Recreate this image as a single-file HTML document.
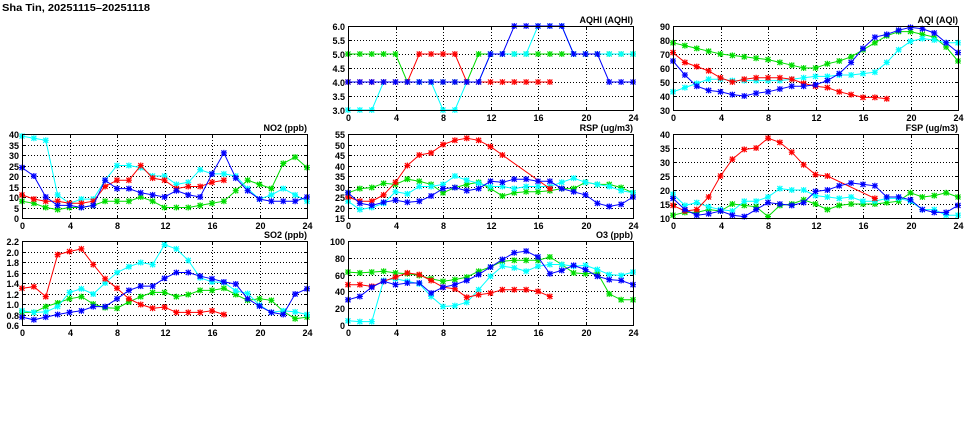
<!DOCTYPE html>
<html><head><meta charset="utf-8">
<style>
html,body{margin:0;padding:0;background:#fff;width:975px;height:447px;overflow:hidden}
svg{display:block}
text{font-family:"Liberation Sans",sans-serif;font-weight:bold;fill:#000}
</style></head>
<body>
<svg id="s" width="975" height="447" xmlns="http://www.w3.org/2000/svg">
<text x="2" y="11" font-size="10.5" font-family="Liberation Serif" textLength="148" lengthAdjust="spacingAndGlyphs">Sha Tin, 20251115–20251118</text>
</svg>
<script>
const N=null;
const panels=[
{x:348,y:26,t:"AQHI (AQHI)",min:3,max:6,step:0.5,fmt:v=>v.toFixed(1),s:{
g:[5,5,5,5,5,4,4,4,4,4,4,5,5,5,5,5,5,5,5,5,5,5,5,5,5],
c:[3,3,3,4,4,4,4,4,3,3,4,4,5,5,5,5,6,6,6,5,5,5,5,5,5],
r:[4,4,4,4,4,4,5,5,5,5,4,4,4,4,4,4,4,4],
b:[4,4,4,4,4,4,4,4,4,4,4,4,5,5,6,6,6,6,6,5,5,5,4,4,4]}},
{x:673,y:26,t:"AQI (AQI)",min:30,max:90,step:10,fmt:v=>v,s:{
g:[78,76,74,72,70,69,68,67,66,64,62,60,60,63,65,68,73,78,83,86,86,84,82,75,65],
c:[43,46,49,52,52,51,51,51,51,51,52,53,54,54,55,55,56,57,64,73,79,81,80,78,78],
r:[71,64,61,58,53,50,52,53,53,53,52,49,47,46,43,41,39,39,38],
b:[65,55,47,44,43,41,40,42,43,45,47,47,48,51,56,64,74,82,84,87,89,88,85,78,71]}},
{x:22,y:134,t:"NO2 (ppb)",min:0,max:40,step:5,fmt:v=>v,s:{
g:[8,7,5,4,5,5,6,8,8,8,10,8,5,5,5,6,7,8,13,18,16,14,26,29,24],
c:[39,38,37,11,7,9,9,18,25,25,24,20,20,16,17,23,21,21,20,14,9,11,14,11,8],
r:[11,9,8,8,7,7,8,15,18,18,25,19,18,14,15,15,17,18],
b:[24,20,10,6,6,5,6,18,14,14,12,11,10,13,11,10,21,31,19,13,9,8,8,8,10]}},
{x:348,y:134,t:"RSP (ug/m3)",min:15,max:55,step:5,fmt:v=>v,s:{
g:[27,29,29.5,31.5,31,33.5,32.5,31,27,29.5,31,32,29,25.5,27,27.5,27.5,28,29,29,32,31,31,29.5,27],
c:[23,19,20,22,27.5,26.5,30,30,31,35,33,31.5,30,30,29,30,30,30,32,34,32,31,30,28,27],
r:[25,23,23,26,32,40,45,46,50,52,53,52,49,45,N,N,N,29],
b:[27,22,21,22.5,23.5,22.5,23,25.5,29,29.5,28,29,32.5,32,33.5,33.5,32.5,32.5,29,27.5,26,22,20.5,21.5,25]}},
{x:673,y:134,t:"FSP (ug/m3)",min:10,max:40,step:5,fmt:v=>v,s:{
g:[11,12,12,13,12.5,15,14.5,14,10.5,14.5,15,16.5,15,13,14.5,15,15,15,15.5,16,19,17.5,18,19,17.5],
c:[18.5,14.5,15.5,14,13,12.5,16,16,17.5,20.5,20,20,18,17.5,17,17.5,16,16,17,17,16,13,13,11,11],
r:[14.5,12.5,13,17.5,25,31,34.5,35,38.5,37,33.5,29,25.5,25,N,N,N,17],
b:[17,13,11,11.5,12.5,11,10.5,13,15.5,15,14.5,15.5,19.5,20,21.5,22.5,22,21.5,17.5,17.5,16.5,13,12,12,14.5]}},
{x:22,y:241,t:"SO2 (ppb)",min:0.6,max:2.2,step:0.2,fmt:v=>v.toFixed(1),s:{
g:[0.84,0.84,0.95,1.02,1.1,1.14,1.0,0.93,0.92,1.04,1.14,1.22,1.22,1.14,1.18,1.26,1.26,1.3,1.18,1.07,1.1,1.07,0.86,0.72,0.75],
c:[0.87,0.84,0.85,0.95,1.22,1.29,1.19,1.4,1.6,1.71,1.79,1.75,2.13,2.05,1.83,1.5,1.42,1.41,1.25,1.2,0.98,0.84,0.87,0.85,0.8],
r:[1.3,1.33,1.14,1.94,2.0,2.05,1.75,1.48,1.3,1.1,0.99,0.92,0.94,0.84,0.84,0.84,0.87,0.8],
b:[0.75,0.7,0.75,0.8,0.84,0.87,0.95,0.95,1.1,1.26,1.34,1.34,1.49,1.6,1.6,1.53,1.48,1.42,1.38,1.1,0.96,0.84,0.8,1.19,1.29]}},
{x:348,y:241,t:"O3 (ppb)",min:0,max:100,step:20,fmt:v=>v,s:{
g:[63,62,63,64,62,61,59,55,52,54,57,64,69,76,77,77,77,81,72,62,61,62,37,30,30],
c:[5,4,4,53,55,52,49,34,22,23,27,42,58,70,68,64,70,72,72,70,71,66,60,59,63],
r:[48,48,46,52,57,62,60,53,45,43,33,36,38,42,42,42,40,34],
b:[30,34,45,52,48,50,50,38,45,48,53,60,69,78,86,88,81,61,65,71,66,58,54,53,48]}}
];
const col={g:"#00dd00",c:"#00ffff",r:"#ff0000",b:"#0000ff"};
const W=285,H=84;
let out="";
for(const p of panels){
  const X=h=>p.x+h*W/24, Y=v=>p.y+H-(v-p.min)/(p.max-p.min)*H;
  out+=`<text x="${p.x+W}" y="${p.y-3}" font-size="9" text-anchor="end">${p.t}</text>`;
  for(let v=p.min;v<=p.max+1e-9;v+=p.step){
    const y=Math.round(Y(v))+0.5;
    if(v>p.min+1e-9&&v<p.max-1e-9) out+=`<line x1="${p.x}" x2="${p.x+W}" y1="${y}" y2="${y}" stroke="#000" stroke-width="1" stroke-dasharray="1,2"/>`;
    out+=`<line x1="${p.x}" x2="${p.x+3}" y1="${y}" y2="${y}" stroke="#000"/><line x1="${p.x+W-3}" x2="${p.x+W}" y1="${y}" y2="${y}" stroke="#000"/>`;
    out+=`<text x="${p.x-3}" y="${y+3.5}" font-size="9" text-anchor="end">${p.fmt(Math.round(v*10)/10)}</text>`;
  }
  for(let h=0;h<=24;h+=4){
    const x=Math.round(X(h))+0.5;
    if(h>0&&h<24) out+=`<line x1="${x}" x2="${x}" y1="${p.y}" y2="${p.y+H}" stroke="#000" stroke-dasharray="1,2"/>`;
    out+=`<line x1="${x}" x2="${x}" y1="${p.y+H-3}" y2="${p.y+H}" stroke="#000"/><line x1="${x}" x2="${x}" y1="${p.y}" y2="${p.y+3}" stroke="#000"/>`;
    out+=`<text x="${x}" y="${p.y+H+11}" font-size="9" text-anchor="middle">${h}</text>`;
  }
  for(const k of ["g","c","r","b"]){
    const d=p.s[k];const pts=[];
    d.forEach((v,i)=>{if(v!==null)pts.push([X(i),Y(v)])});
    out+=`<polyline fill="none" stroke="${col[k]}" stroke-width="1" points="${pts.map(q=>q[0].toFixed(1)+","+q[1].toFixed(1)).join(" ")}"/>`;
    for(const [x,y] of pts){
      out+=`<path d="M${x-2.5},${y-2.5}L${x+2.5},${y+2.5}M${x-2.5},${y+2.5}L${x+2.5},${y-2.5}M${x-3},${y}H${x+3}M${x},${y-3}V${y+3}" stroke="${col[k]}" stroke-width="1.2" fill="none"/>`;
    }
  }
  out+=`<rect x="${p.x+0.5}" y="${p.y+0.5}" width="${W}" height="${H}" fill="none" stroke="#000"/>`;
}
document.getElementById("s").insertAdjacentHTML("beforeend",out);
</script>
</body></html>
